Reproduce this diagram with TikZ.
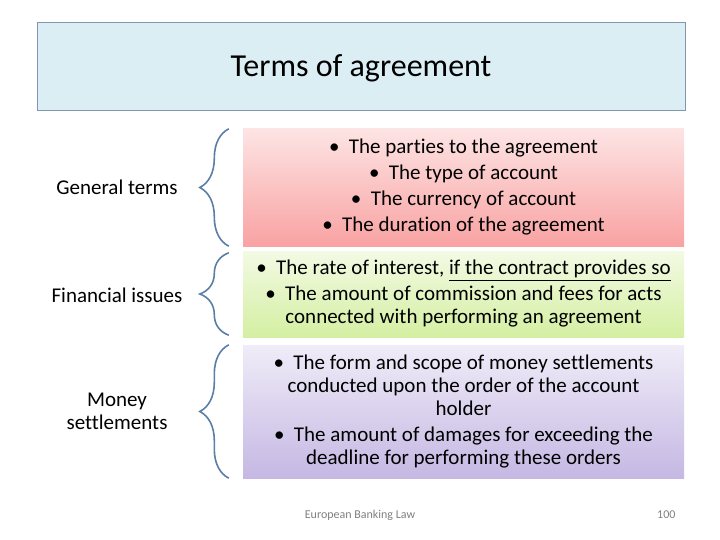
\documentclass[tikz,border=0pt]{standalone}
\usepackage{fontspec}
\setmainfont{Carlito}[Ligatures=NoCommon]
\usepackage{tikz}
\usetikzlibrary{positioning,calc,decorations.pathreplacing}
\definecolor{titlefill}{HTML}{DAEEF3}
\definecolor{titleline}{HTML}{7F97B2}
\definecolor{bracecol}{HTML}{5A7FA6}
\definecolor{pinktop}{HTML}{FDE4E4}
\definecolor{pinkbot}{HTML}{F9A2A2}
\definecolor{greentop}{HTML}{F3FAE4}
\definecolor{greenbot}{HTML}{D4EFA2}
\definecolor{lilactop}{HTML}{F0ECF8}
\definecolor{lilacbot}{HTML}{C5B8E3}
\definecolor{footgray}{HTML}{7F7F7F}
\tikzset{
  % --- heading box ---
  titlebox/.style={draw=titleline, fill=titlefill, thin,
                   minimum width=648pt, minimum height=88pt, text depth=0pt,
                   font=\fontsize{32}{36}\selectfont},
  % --- left hand labels ---
  rowlabel/.style={align=center, font=\fontsize{21}{23}\selectfont},
  % --- shaded content boxes ---
  termbox/.style={draw=none, align=center, minimum width=441pt,
                  inner sep=0pt, font=\fontsize{21}{23}\selectfont},
  pinkbox/.style={termbox, top color=pinktop, bottom color=pinkbot},
  greenbox/.style={termbox, top color=greentop, bottom color=greenbot},
  lilacbox/.style={termbox, top color=lilactop, bottom color=lilacbot},
  % --- curly brace in front of each box ---
  curly/.style={draw=bracecol, line width=1.6pt,
                decorate, decoration={brace, amplitude=29pt}},
  foot/.style={text=footgray, font=\fontsize{12}{14}\selectfont},
}
\newcommand{\bul}{\textbullet\hspace{0.45em}}
\begin{document}
\begin{tikzpicture}[x=1pt, y=-1pt]
  \useasboundingbox (0,0) rectangle (720,540);

  % heading
  \node[titlebox] (title) at (361,66) {Terms of agreement};

  % content boxes, stacked below the heading
  \node[pinkbox, minimum height=117pt] (general) at (463.5,187.5)
    {\bul The parties to the agreement\\[3pt]
     \bul The type of account\\[3pt]
     \bul The currency of account\\[3pt]
     \bul The duration of the agreement};
  \node[greenbox, minimum height=86pt] (financial) at (463.5,294)
    {\bul The rate of interest, \underline{if the contract provides so}\\[3pt]
     \bul The amount of commission and fees for acts\\
     connected with performing an agreement};
  \node[lilacbox, minimum height=133pt] (money) at (463.5,411.5)
    {\bul The form and scope of money settlements\\
     conducted upon the order of the account\\
     holder\\[3pt]
     \bul The amount of damages for exceeding the\\
     deadline for performing these orders};

  % row labels
  \node[rowlabel] (lgeneral)   at (117,187) {General terms};
  \node[rowlabel] (lfinancial) at (117,295) {Financial issues};
  \node[rowlabel] (lmoney)     at (117,411) {Money\\settlements};

  % braces, from the bottom corner up to the top corner of each box
  \draw[curly] ([xshift=-14pt]general.south west)   -- ([xshift=-14pt]general.north west);
  \draw[curly] ([xshift=-14pt,yshift=2pt]financial.south west) -- ([xshift=-14pt,yshift=-2pt]financial.north west);
  \draw[curly] ([xshift=-14pt]money.south west)     -- ([xshift=-14pt]money.north west);

  % footer
  \node[foot] (footer) at (360,515) {European Banking Law};
  \node[foot, anchor=east] (page) at (679,515) {100};
\end{tikzpicture}
\end{document}
